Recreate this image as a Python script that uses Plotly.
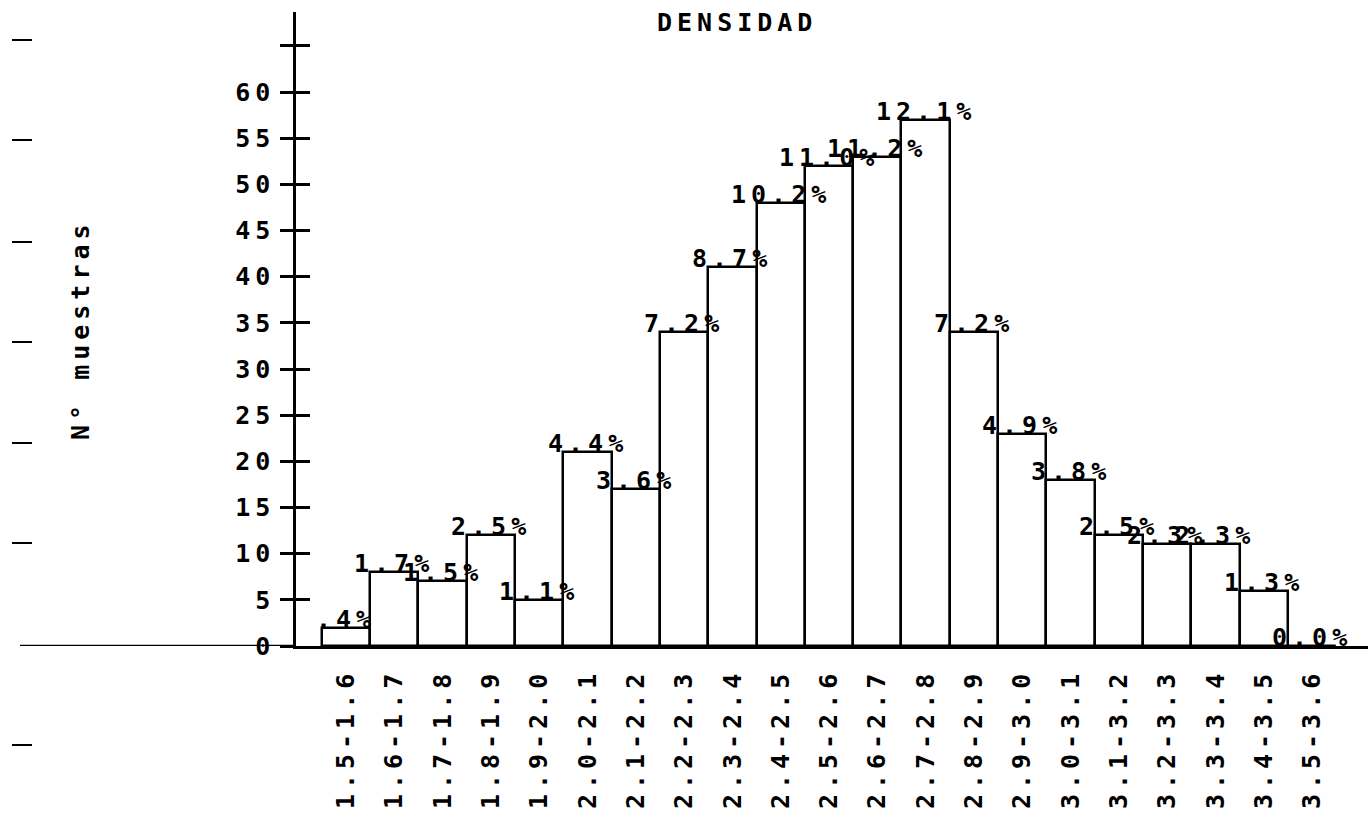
import plotly.graph_objects as go

# Histogram of sample densities: class intervals and sample counts
intervals = ["1.5-1.6", "1.6-1.7", "1.7-1.8", "1.8-1.9", "1.9-2.0", "2.0-2.1",
             "2.1-2.2", "2.2-2.3", "2.3-2.4", "2.4-2.5", "2.5-2.6", "2.6-2.7",
             "2.7-2.8", "2.8-2.9", "2.9-3.0", "3.0-3.1", "3.1-3.2", "3.2-3.3",
             "3.3-3.4", "3.4-3.5", "3.5-3.6"]
counts = [2, 8, 7, 12, 5, 21, 17, 34, 41, 48, 52, 53, 57, 34, 23, 18, 12, 11, 11, 6, 0]
y_ticks = [0, 5, 10, 15, 20, 25, 30, 35, 40, 45, 50, 55, 60, 65]
y_labels = ["0", "5", "10", "15", "20", "25", "30", "35", "40", "45", "50", "55", "60", ""]

FONT = "DejaVu Sans Mono"
SIZE = 25
SPACING = 5


def spaced(s):
    return f'<span style="letter-spacing:{SPACING}px">{s}</span>'


def pct_label(c, total):
    p = 100.0 * c / total
    s = f"{p:.1f}"
    if 0 < p < 1:
        s = s.lstrip("0")
    return s + "%"


total = sum(counts)
xs = list(range(len(intervals)))

# Page geometry (pixels)
W, H = 1368, 818
L, T, B = 296, 12, 646
PW, PH = W - L, B - T


def px(x):
    return (x - L) / PW


def py(y):
    return (B - y) / PH


fig = go.Figure()
fig.add_trace(go.Bar(
    x=xs, y=counts, width=1,
    marker=dict(color="white", line=dict(color="black", width=2.5)),
    hoverinfo="skip", showlegend=False,
))

textfont = dict(family=FONT, size=SIZE, color="black", weight="bold")

annotations = []
for x, c in zip(xs, counts):
    annotations.append(dict(
        x=x, y=c, xref="x", yref="y", text=spaced(pct_label(c, total)),
        showarrow=False, xanchor="center", yanchor="bottom", yshift=-8,
        font=textfont,
    ))

annotations.append(dict(
    x=px(737), y=py(22), xref="paper", yref="paper", text=spaced("DENSIDAD"),
    showarrow=False, xanchor="center", yanchor="middle", font=textfont,
))
annotations.append(dict(
    x=px(80), y=py(330), xref="paper", yref="paper", text=spaced("N° muestras"),
    showarrow=False, textangle=-90, xanchor="center", yanchor="middle",
    font=textfont,
))

shapes = [
    # baseline continued to the left page edge
    dict(type="line", xref="paper", yref="y", x0=px(20), x1=0, y0=0, y1=0,
         line=dict(color="black", width=2.5)),
]
# page registration marks down the left margin
for my in [40, 140, 242, 342, 443, 543, 745]:
    shapes.append(dict(type="line", xref="paper", yref="paper",
                       x0=px(12), x1=px(32), y0=py(my), y1=py(my),
                       line=dict(color="black", width=2)))

yrange = [0, (B - T) / ((B - 92) / 60.0)]
bar_px = 48.3
x0 = -(346 - L) / bar_px
xrange = [x0, x0 + PW / bar_px]

fig.update_layout(
    width=W, height=H,
    margin=dict(l=L, r=0, t=T, b=H - B, autoexpand=False),
    paper_bgcolor="white", plot_bgcolor="white",
    bargap=0,
    xaxis=dict(
        range=xrange, tickvals=xs, ticktext=[spaced(s) for s in intervals],
        tickangle=-90, ticks="", showgrid=False, zeroline=False,
        showline=True, linecolor="black", linewidth=2.5,
        tickfont=textfont, ticklabelstandoff=10, automargin=False,
    ),
    yaxis=dict(
        range=yrange, tickvals=y_ticks, ticktext=[spaced(s) for s in y_labels],
        ticks="outside", ticklen=13, tickwidth=2.5, tickcolor="black",
        showgrid=False, zeroline=False,
        showline=True, linecolor="black", linewidth=2.5,
        tickfont=textfont, ticklabelstandoff=0, automargin=False,
    ),
    yaxis2=dict(
        range=yrange, overlaying="y", side="left", tickvals=y_ticks,
        showticklabels=False, ticks="inside", ticklen=14, tickwidth=2.5,
        tickcolor="black", showgrid=False, zeroline=False, showline=False,
        automargin=False,
    ),
    annotations=annotations,
    shapes=shapes,
)
# invisible trace so the overlaying axis is drawn
fig.add_trace(go.Scatter(x=[xrange[0]], y=[0], yaxis="y2", mode="markers",
                         marker=dict(opacity=0), hoverinfo="skip", showlegend=False))

fig.write_html("out.html")
